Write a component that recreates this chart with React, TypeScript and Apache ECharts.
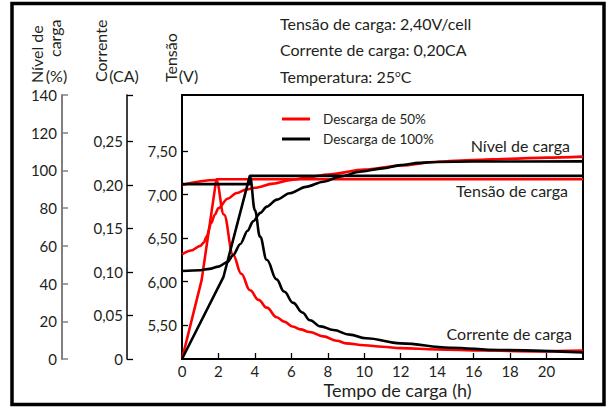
import React, { useEffect, useRef } from 'react';
import * as echarts from 'echarts';

const FONT = 'Lato, "Open Sans", sans-serif';
const INK = '#231f20';
const RED = '#ff0000';
const BLACK = '#000000';

// x ticks (h)
const hourTicks = [0, 2, 4, 6, 8, 10, 12, 14, 16, 18, 20];
const voltTicks = [5.5, 6.0, 6.5, 7.0, 7.5];
const currentTicks = [0, 0.05, 0.1, 0.15, 0.2, 0.25];

// Nível de carga (%) — Descarga de 50%
const hoursLevel50 = [0, 0.5, 1.0, 1.2, 1.35, 1.6, 1.8, 2.0, 2.5, 3.0, 3.5, 4, 5, 6, 7, 8, 10, 12, 14, 16, 18, 20, 22];
const level50 = [55.5, 57.5, 60, 61.8, 65, 72, 76.5, 80, 85, 88, 89.8, 90.8, 93, 95, 96.5, 97.8, 100.4, 102.6, 104.6, 105.5, 106.2, 106.8, 107.3];
// Nível de carga (%) — Descarga de 100%
const hoursLevel100 = [0, 1.0, 1.5, 2.0, 2.5, 2.8, 3.2, 3.6, 3.9, 4.3, 4.65, 5.2, 5.9, 6.8, 7.75, 8.7, 9.76, 11, 12, 13, 14, 16, 22];
const level100 = [46.7, 47.1, 47.8, 49, 51.5, 55, 61, 68, 73, 77.5, 80.8, 84.5, 87.9, 91.3, 94, 96.8, 99.3, 101.1, 102.8, 104, 104.5, 104.7, 104.8];

// Tensão de carga (V)
const hoursVolt50 = [0, 1.08, 1.88, 22];
const volt50 = [5.11, 6.02, 7.175, 7.175];
const hoursVolt100 = [0, 2.27, 3.72, 22];
const volt100 = [5.11, 6.05, 7.215, 7.215];

// Corrente de carga (CA)
const hoursCurr50 = [0, 1.88, 2.3, 2.8, 3.25, 3.73, 4.2, 4.65, 5.2, 5.6, 6.1, 6.5, 7.0, 7.75, 8.5, 9.0, 10, 11, 12, 14, 16.5, 19.3, 22];
const curr50 = [0.2, 0.2057, 0.166, 0.12, 0.098, 0.079, 0.068, 0.059, 0.048, 0.043, 0.037, 0.034, 0.031, 0.026, 0.021, 0.018, 0.0158, 0.0141, 0.0125, 0.011, 0.0097, 0.0088, 0.0096];
const hoursCurr100 = [0, 3.71, 3.73, 4.0, 4.28, 4.65, 5.19, 5.6, 6.1, 6.6, 7.02, 7.6, 8.3, 9.2, 10.1, 12, 14.7, 17.4, 22];
const curr100 = [0.201, 0.201, 0.2095, 0.171, 0.1406, 0.114, 0.0915, 0.0775, 0.0645, 0.0535, 0.0445, 0.0375, 0.0333, 0.028, 0.0238, 0.018, 0.013, 0.0103, 0.0075];

const zip = (xs: number[], ys: number[]) => xs.map((x, i) => [x, ys[i]]);
const comma = (v: number) => (v === 0 ? '0' : v.toFixed(2).replace('.', ','));

const txt = (text: string, x: number, y: number, o: any = {}) => ({
  type: 'text',
  x,
  y,
  rotation: o.rotation || 0,
  style: {
    text,
    fontSize: o.fontSize || 16,
    fontFamily: FONT,
    fill: INK,
    align: o.align || 'left',
    verticalAlign: 'middle',
    rich: o.rich,
  },
});

export default function App() {
  const ref = useRef<HTMLDivElement>(null);
  useEffect(() => {
    const chart = echarts.init(ref.current!, null, { renderer: 'svg' });
    const line = (name: string, color: string, data: number[][], yAxisIndex: number, smooth: number) => ({
      type: 'line',
      name,
      color,
      yAxisIndex,
      data,
      symbol: 'none',
      smooth,
      smoothMonotone: 'x',
      lineStyle: { width: 2.6, color },
      silent: true,
    });
    const R90 = Math.PI / 2;
    chart.setOption({
      animation: false,
      backgroundColor: '#fff',
      grid: { left: 182, right: 27, top: 95, bottom: 48, show: true, borderColor: BLACK, borderWidth: 2, backgroundColor: 'transparent' },
      legend: {
        data: ['Descarga de 50%', 'Descarga de 100%'],
        orient: 'vertical',
        left: 277,
        top: 107,
        icon: 'rect',
        itemWidth: 28,
        itemHeight: 3,
        itemGap: 6,
        selectedMode: false,
        textStyle: { fontSize: 13.5, fontFamily: FONT, color: INK, padding: [0, 0, 0, 8] },
      },
      xAxis: {
        type: 'value',
        min: 0,
        max: 22,
        interval: 2,
        axisLine: { lineStyle: { color: BLACK, width: 2 } },
        axisTick: { inside: true, length: 6, lineStyle: { color: BLACK, width: 1.3 }, customValues: hourTicks },
        axisLabel: { fontSize: 15, fontFamily: FONT, color: INK, margin: 4, customValues: hourTicks, formatter: (v: number) => String(v) },
        splitLine: { show: false },
      },
      yAxis: [
        {
          type: 'value',
          min: 5.11,
          max: 8.144,
          position: 'left',
          offset: 0,
          axisLine: { show: true, lineStyle: { color: BLACK, width: 2 } },
          axisTick: { show: true, inside: true, length: 6, lineStyle: { color: BLACK, width: 1.3 }, customValues: voltTicks },
          axisLabel: { fontSize: 15, fontFamily: FONT, color: INK, margin: 5, customValues: voltTicks, formatter: (v: number) => comma(v) },
          splitLine: { show: false },
        },
        {
          type: 'value',
          min: 0,
          max: 0.3034,
          position: 'left',
          offset: 55,
          axisLine: { show: true, lineStyle: { color: BLACK, width: 1.5 } },
          axisTick: { show: true, inside: true, length: 6, lineStyle: { color: BLACK, width: 1.3 }, customValues: [...currentTicks, 0.3034] },
          axisLabel: { fontSize: 15, fontFamily: FONT, color: INK, margin: 4, customValues: currentTicks, formatter: (v: number) => comma(v) },
          splitLine: { show: false },
        },
        {
          type: 'value',
          min: 0,
          max: 140,
          interval: 20,
          position: 'left',
          offset: 120,
          axisLine: { show: true, lineStyle: { color: '#808080', width: 2 } },
          axisTick: { show: true, inside: true, length: 6, lineStyle: { color: '#808080', width: 1.5 } },
          axisLabel: { fontSize: 15, fontFamily: FONT, color: INK, margin: 5 },
          splitLine: { show: false },
        },
      ],
      series: [
        line('Descarga de 50%', RED, zip(hoursLevel50, level50), 2, 0.3),
        line('Descarga de 50%', RED, zip(hoursVolt50, volt50), 0, 0),
        line('Descarga de 50%', RED, zip(hoursCurr50, curr50), 1, 0.4),
        line('Descarga de 100%', BLACK, zip(hoursLevel100, level100), 2, 0.3),
        line('Descarga de 100%', BLACK, zip(hoursVolt100, volt100), 0, 0),
        line('Descarga de 100%', BLACK, zip(hoursCurr100, curr100), 1, 0.4),
      ],
      graphic: [
        { type: 'rect', shape: { x: 12, y: 3.5, width: 592, height: 401 }, style: { fill: 'none', stroke: BLACK, lineWidth: 3.5 }, silent: true },
        txt('Nível de', 36, 83, { rotation: R90 }),
        txt('carga', 54, 57, { rotation: R90 }),
        txt('(%)', 56.5, 75, { align: 'center' }),
        txt('Corrente', 100, 82, { rotation: R90 }),
        txt('(CA)', 124, 75, { align: 'center' }),
        txt('Tensão', 170.5, 82, { rotation: R90 }),
        txt('(V)', 188.5, 75, { align: 'center' }),
        txt('Tensão de carga: 2,40V/cell', 280, 23.5),
        txt('Corrente de carga: 0,20CA', 280, 49),
        txt('Temperatura: 25{s|o}C', 280, 76, {
          rich: { s: { fontSize: 10, fontFamily: FONT, fill: INK, verticalAlign: 'top', padding: [0, 0, 6, 0] } },
        }),
        txt('Nível de carga', 570, 145, { align: 'right' }),
        txt('Tensão de carga', 568, 190, { align: 'right' }),
        txt('Corrente de carga', 572, 333, { align: 'right' }),
        txt('Tempo de carga (h)', 397.5, 390, { align: 'center', fontSize: 18 }),
      ],
    });
    return () => chart.dispose();
  }, []);
  return <div ref={ref} style={{ position: 'fixed', left: 0, top: 0, width: 610, height: 407, background: '#fff' }} />;
}
